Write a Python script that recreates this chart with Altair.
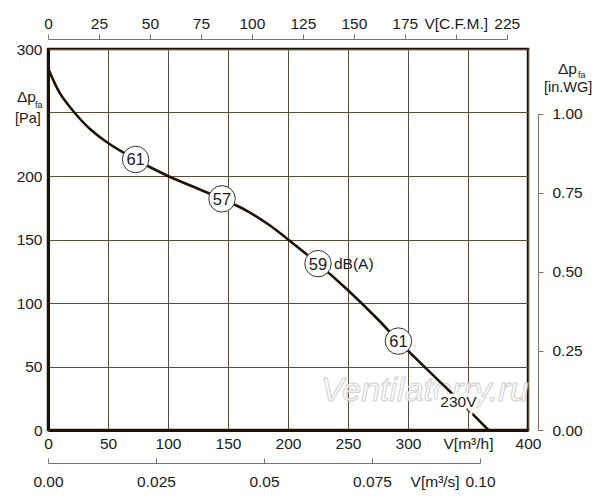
import json
import altair as alt
import pandas as pd

# ---- data ----
flow_m3h = [0, 10, 22, 35, 50, 73, 100, 125, 145, 165, 185, 200, 225, 250, 275, 292, 320, 345, 367]
pressure_pa = [285, 265, 250, 237, 226, 213, 200, 190, 182, 173, 161, 150, 131, 110, 87, 70, 44, 21, 0]

marker_flow = [73, 145, 225, 292]
marker_pa = [213, 182, 131, 70]
marker_db = ["61", "57", "59", "61"]

x_ticks = [0, 50, 100, 150, 200, 250, 300, 350, 400]
x_labels = ["0", "50", "100", "150", "200", "250", "300", "V[m³/h]", "400"]
y_ticks = [0, 50, 100, 150, 200, 250, 300]
y_labels = ["0", "50", "100", "150", "200", "", "300"]
cfm_ticks = [0, 25, 50, 75, 100, 125, 150, 175, 200, 225]
cfm_labels = ["0", "25", "50", "75", "100", "125", "150", "175", "V[C.F.M.]", "225"]
m3s_ticks = [0, 0.025, 0.05, 0.075, 0.0895, 0.1]
m3s_labels = ["0.00", "0.025", "0.05", "0.075", "V[m³/s]", "0.10"]
inwg_ticks = [0, 0.25, 0.5, 0.75, 1.0]
inwg_labels = ["0.00", "0.25", "0.50", "0.75", "1.00"]

M3H_PER_CFM = 1.69901
PA_PER_INWG = 249.089
M3H_PER_M3S = 3600.0

W, H = 480, 381
DARK = "#1e1206"
GRID = "#5b4d3e"
AX2 = "#7d7265"
TXT = "#1a1a1a"
FONT = "Liberation Sans"
FS = 15.5


def lab(values, labels):
    return f"{json.dumps(labels, ensure_ascii=False)}[indexof({json.dumps(values)}, datum.value)]"


curve = pd.DataFrame({"flow": flow_m3h, "pa": pressure_pa})
markers = pd.DataFrame({"flow": marker_flow, "pa": marker_pa, "db": marker_db})
one = pd.DataFrame({"a": [0]})

xs = alt.Scale(domain=[0, 400], nice=False, zero=True)
ys = alt.Scale(domain=[0, 300], nice=False, zero=True)

common = dict(title=None, labelFont=FONT, labelFontSize=FS, labelColor=TXT,
              labelOverlap=False, labelFlush=False)

line = alt.Chart(curve).mark_line(
    color=DARK, strokeWidth=2.6, interpolate="catmull-rom"
).encode(
    x=alt.X("flow:Q", scale=xs, axis=alt.Axis(
        orient="bottom", values=x_ticks, labelExpr=lab(x_ticks, x_labels),
        grid=True, gridColor=GRID, gridWidth=1, ticks=False,
        domainColor=DARK, domainWidth=3, labelPadding=6, **common)),
    y=alt.Y("pa:Q", scale=ys, axis=alt.Axis(
        orient="left", values=y_ticks, labelExpr=lab(y_ticks, y_labels),
        grid=True, gridColor=GRID, gridWidth=1, ticks=False,
        domainColor=DARK, domainWidth=3, labelPadding=6, **common)),
)

watermark = alt.Chart(one).mark_text(
    text="Ventilatorry.ru", font=FONT, fontStyle="italic", fontSize=34,
    fill="white", stroke="#c8c8c8", strokeWidth=1, opacity=0.85
).encode(x=alt.datum(314), y=alt.datum(31))

pts = alt.Chart(markers).mark_point(
    shape="circle", filled=True, fill="white", stroke="#333333",
    strokeWidth=1, size=700, opacity=1
).encode(x="flow:Q", y="pa:Q")

pts_txt = alt.Chart(markers).mark_text(
    font=FONT, fontSize=16.5, color=TXT, baseline="middle", dy=1
).encode(x="flow:Q", y="pa:Q", text="db:N")

dba = alt.Chart(one).mark_text(
    text="dB(A)", font=FONT, fontSize=FS, color=TXT, align="left", baseline="middle", dx=16
).encode(x=alt.datum(marker_flow[2]), y=alt.datum(marker_pa[2]))

v230_halo = alt.Chart(one).mark_text(
    text="230V", font=FONT, fontSize=FS, color="white", stroke="white", strokeWidth=7,
    baseline="middle"
).encode(x=alt.datum(342), y=alt.datum(22))
v230 = alt.Chart(one).mark_text(
    text="230V", font=FONT, fontSize=FS, color=TXT, baseline="middle"
).encode(x=alt.datum(342), y=alt.datum(22))


def t(text, fx, fy, size, dx=0):
    return alt.Chart(one).mark_text(
        text=text, font=FONT, fontSize=size, color=TXT, align="left", baseline="middle", dx=dx
    ).encode(x=alt.datum(fx), y=alt.datum(fy))


left_t1 = t("Δp", 0, 262, FS, dx=-31)
left_t2 = t("fa", 0, 256, 9, dx=-13)
left_t3 = t("[Pa]", 0, 245, 14.5, dx=-33)
right_t1 = t("Δp", 400, 284.5, FS, dx=30)
right_t2 = t("fa", 400, 279.5, 9, dx=50)
right_t3 = t("[in.WG]", 400, 269, 14.5, dx=16)

main = alt.layer(
    watermark, line, pts, pts_txt, dba, v230_halo, v230,
    left_t1, left_t2, left_t3, right_t1, right_t2, right_t3
)

cfm_layer = alt.Chart(curve).transform_calculate(
    cfm=f"datum.flow / {M3H_PER_CFM}"
).mark_line(strokeOpacity=0).encode(
    x=alt.X("cfm:Q", scale=alt.Scale(domain=[0, 225], nice=False,
                                       range=[0, W * 225 * M3H_PER_CFM / 400]),
            axis=alt.Axis(orient="top", offset=10, values=cfm_ticks,
                          labelExpr=lab(cfm_ticks, cfm_labels), grid=False,
                          tickSize=5, tickColor=AX2, domainColor=AX2, labelPadding=3,
                          **common)),
    y=alt.Y("pa:Q", scale=alt.Scale(domain=[0, 300], nice=False), axis=None),
)

inwg_layer = alt.Chart(curve).transform_calculate(
    inwg=f"datum.pa / {PA_PER_INWG}"
).mark_line(strokeOpacity=0).encode(
    x=alt.X("flow:Q", scale=alt.Scale(domain=[0, 400], nice=False), axis=None),
    y=alt.Y("inwg:Q", scale=alt.Scale(domain=[0, 1], nice=False,
                                        range=[H, H - H * PA_PER_INWG / 300]),
            axis=alt.Axis(orient="right", offset=10, values=inwg_ticks,
                          labelExpr=lab(inwg_ticks, inwg_labels), grid=False,
                          tickSize=5, tickColor=AX2, domainColor=AX2, labelPadding=9,
                          **common)),
)

m3s_layer = alt.Chart(curve).transform_calculate(
    m3s=f"datum.flow / {M3H_PER_M3S}"
).mark_line(strokeOpacity=0).encode(
    x=alt.X("m3s:Q", scale=alt.Scale(domain=[0, 0.1], nice=False,
                                       range=[0, W * 0.1 * M3H_PER_M3S / 400]),
            axis=alt.Axis(orient="top", offset=-(H + 33), values=m3s_ticks,
                          labelExpr=lab(m3s_ticks, m3s_labels), grid=False,
                          tickSize=5, tickColor=AX2, domainColor=AX2,
                          tickOpacity={"condition": {"test": "datum.value == 0.0895", "value": 0}, "value": 1},
                          labelBaseline="top", labelPadding=-16, **common)),
    y=alt.Y("pa:Q", scale=alt.Scale(domain=[0, 300], nice=False), axis=None),
)

chart = alt.layer(main, cfm_layer, inwg_layer, m3s_layer).resolve_scale(
    x="independent", y="independent"
).properties(
    width=W, height=H,
    autosize=alt.AutoSizeParams(type="none"),
    padding={"left": 40, "top": 41, "right": 64, "bottom": 62},
    background="white",
).configure_view(stroke=DARK, strokeWidth=2.5)

chart.save("out.html", embed_options={"renderer": "svg", "actions": False})
